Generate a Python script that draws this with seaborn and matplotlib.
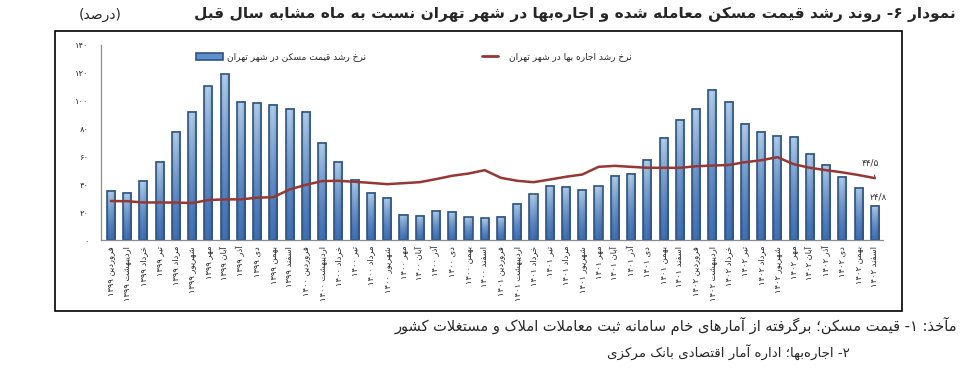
import re
import numpy as np
import pandas as pd
import matplotlib
matplotlib.use('Agg')
import matplotlib.pyplot as plt
import seaborn as sns
from matplotlib.lines import Line2D
from matplotlib.patches import Patch, Rectangle
from matplotlib.ticker import FixedLocator

# ---- data ----
MONTHS = ['فروردین', 'اردیبهشت', 'خرداد', 'تیر', 'مرداد', 'شهریور',
          'مهر', 'آبان', 'آذر', 'دی', 'بهمن', 'اسفند']
YEARS = ['۱۳۹۹', '۱۴۰۰', '۱۴۰۱', '۱۴۰۲']

price_growth = [35.2, 33.8, 42.4, 56.4, 77.4, 91.9, 110.2, 118.8, 99.0, 98.6, 97.1, 94.0,
                91.9, 69.5, 56.4, 43.4, 33.8, 30.2, 18.0, 17.6, 21.2, 20.2, 16.4, 15.7,
                16.6, 26.1, 32.8, 39.0, 38.0, 36.2, 38.6, 46.2, 47.4, 57.8, 73.1, 85.9,
                94.0, 107.4, 98.8, 83.6, 77.4, 74.5, 74.0, 62.1, 54.0, 45.2, 37.4, 24.8]
rent_growth = [28.1, 28.0, 27.1, 27.1, 27.0, 26.7, 28.8, 29.3, 29.3, 30.5, 30.9, 36.4,
               39.7, 42.4, 42.6, 41.9, 41.1, 40.2, 40.9, 41.6, 43.8, 46.2, 47.8, 50.2,
               44.7, 42.6, 41.6, 43.5, 45.5, 47.1, 52.6, 53.3, 52.6, 51.9, 51.9, 51.9,
               53.0, 53.5, 53.9, 55.9, 57.3, 59.5, 54.5, 51.9, 50.2, 48.6, 46.7, 44.5]

Y_TICKS = [0, 20, 40, 60, 80, 100, 120, 140]
Y_TICK_LABELS = ['۰', '۲۰', '۴۰', '۶۰', '۸۰', '۱۰۰', '۱۲۰', '۱۴۰']

TITLE = 'نمودار ۶- روند رشد قیمت مسکن معامله شده و اجاره\u200cبها در شهر تهران نسبت به ماه مشابه سال قبل'
UNIT = '(درصد)'
LEG_PRICE = 'نرخ رشد قیمت مسکن در شهر تهران'
LEG_RENT = 'نرخ رشد اجاره بها در شهر تهران'
NOTE_1 = 'مآخذ: ۱- قیمت مسکن؛ برگرفته از آمارهای خام سامانه ثبت معاملات املاک و مستغلات کشور'
NOTE_2 = '۲- اجاره\u200cبها؛ اداره آمار اقتصادی بانک مرکزی'
LAST_RENT_LABEL = '۴۴/۵'
LAST_PRICE_LABEL = '۲۴/۸'

# ---- minimal Persian shaping (presentation forms) + visual reordering ----
FORMS = {
    '\u0622': (0xFE81, 0xFE82), '\u0623': (0xFE83, 0xFE84), '\u0624': (0xFE85, 0xFE86),
    '\u0625': (0xFE87, 0xFE88), '\u0626': (0xFE89, 0xFE8A, 0xFE8B, 0xFE8C),
    '\u0627': (0xFE8D, 0xFE8E), '\u0628': (0xFE8F, 0xFE90, 0xFE91, 0xFE92),
    '\u0629': (0xFE93, 0xFE94), '\u062A': (0xFE95, 0xFE96, 0xFE97, 0xFE98),
    '\u062B': (0xFE99, 0xFE9A, 0xFE9B, 0xFE9C), '\u062C': (0xFE9D, 0xFE9E, 0xFE9F, 0xFEA0),
    '\u062D': (0xFEA1, 0xFEA2, 0xFEA3, 0xFEA4), '\u062E': (0xFEA5, 0xFEA6, 0xFEA7, 0xFEA8),
    '\u062F': (0xFEA9, 0xFEAA), '\u0630': (0xFEAB, 0xFEAC), '\u0631': (0xFEAD, 0xFEAE),
    '\u0632': (0xFEAF, 0xFEB0), '\u0633': (0xFEB1, 0xFEB2, 0xFEB3, 0xFEB4),
    '\u0634': (0xFEB5, 0xFEB6, 0xFEB7, 0xFEB8), '\u0635': (0xFEB9, 0xFEBA, 0xFEBB, 0xFEBC),
    '\u0636': (0xFEBD, 0xFEBE, 0xFEBF, 0xFEC0), '\u0637': (0xFEC1, 0xFEC2, 0xFEC3, 0xFEC4),
    '\u0638': (0xFEC5, 0xFEC6, 0xFEC7, 0xFEC8), '\u0639': (0xFEC9, 0xFECA, 0xFECB, 0xFECC),
    '\u063A': (0xFECD, 0xFECE, 0xFECF, 0xFED0), '\u0641': (0xFED1, 0xFED2, 0xFED3, 0xFED4),
    '\u0642': (0xFED5, 0xFED6, 0xFED7, 0xFED8), '\u0643': (0xFED9, 0xFEDA, 0xFEDB, 0xFEDC),
    '\u0644': (0xFEDD, 0xFEDE, 0xFEDF, 0xFEE0), '\u0645': (0xFEE1, 0xFEE2, 0xFEE3, 0xFEE4),
    '\u0646': (0xFEE5, 0xFEE6, 0xFEE7, 0xFEE8), '\u0647': (0xFEE9, 0xFEEA, 0xFEEB, 0xFEEC),
    '\u0648': (0xFEED, 0xFEEE), '\u0649': (0xFEEF, 0xFEF0),
    '\u064A': (0xFEF1, 0xFEF2, 0xFEF3, 0xFEF4),
    '\u067E': (0xFB56, 0xFB57, 0xFB58, 0xFB59), '\u0686': (0xFB7A, 0xFB7B, 0xFB7C, 0xFB7D),
    '\u0698': (0xFB8A, 0xFB8B), '\u06A9': (0xFB8E, 0xFB8F, 0xFB90, 0xFB91),
    '\u06AF': (0xFB92, 0xFB93, 0xFB94, 0xFB95), '\u06CC': (0xFBFC, 0xFBFD, 0xFBFE, 0xFBFF),
}
LAMALEF = {'\u0622': (0xFEF5, 0xFEF6), '\u0623': (0xFEF7, 0xFEF8),
           '\u0625': (0xFEF9, 0xFEFA), '\u0627': (0xFEFB, 0xFEFC)}


def shape(s):
    out = []
    i = 0
    while i < len(s):
        c = s[i]
        if c == '\u200c':
            i += 1
            continue
        if c not in FORMS:
            out.append(c)
            i += 1
            continue
        prev = s[i - 1] if i > 0 else ''
        jp = prev in FORMS and len(FORMS[prev]) == 4
        nxt = s[i + 1] if i + 1 < len(s) else ''
        if c == '\u0644' and nxt in LAMALEF:
            out.append(chr(LAMALEF[nxt][1] if jp else LAMALEF[nxt][0]))
            i += 2
            continue
        f = FORMS[c]
        jn = len(f) == 4 and nxt in FORMS
        g = f[3] if (jp and jn) else f[1] if jp else f[2] if jn else f[0]
        out.append(chr(g))
        i += 1
    return ''.join(out)


def fa(s):
    t = shape(s)[::-1]
    t = re.sub(r'[0-9\u06F0-\u06F9/]+', lambda m: m.group(0)[::-1], t)
    return t.translate(str.maketrans('()', ')('))


# ---- frame ----
labels = [f'{m} {y}' for y in YEARS for m in MONTHS]
df = pd.DataFrame({'label': labels, 'price': price_growth, 'rent': rent_growth,
                   'pos': np.arange(len(labels))})

sns.set_style('white')
plt.rcParams['font.family'] = ['DejaVu Sans']

fig = plt.figure(figsize=(9.67, 3.8), dpi=100)
ax = fig.add_axes([0.1045, 0.3676, 0.8087, 0.5147])

sns.barplot(data=df, x='label', y='price', color='#4f81bd', width=0.5,
            edgecolor='#30547f', linewidth=1.2, ax=ax, zorder=2)

# gradient fill for the bars
v = np.linspace(0, 1, 60)[:, None]
u = np.linspace(0, 1, 20)[None, :]
top = np.array([0.70, 0.82, 0.94])
bot = np.array([0.26, 0.45, 0.73])
shade = 1 - 0.15 * np.abs(u - 0.4) / 0.6
grad = (bot + (top - bot) * (v ** 1.4)[..., None]) * shade[..., None]
grad = np.clip(grad, 0, 1)
for p in list(ax.patches):
    x0, y0, w, h = p.get_x(), p.get_y(), p.get_width(), p.get_height()
    ax.imshow(grad, extent=[x0, x0 + w, y0, y0 + h], origin='lower',
              aspect='auto', zorder=1.9, interpolation='bilinear')
    p.set_facecolor('none')

sns.lineplot(data=df, x='pos', y='rent', color='#953735', linewidth=1.8,
             ax=ax, zorder=3)

ax.set_xlim(-0.6, 47.5)
ax.set_ylim(0, 140)
ax.set_aspect('auto')
ax.set_xlabel('')
ax.set_ylabel('')

ax.set_yticks(Y_TICKS)
ax.set_yticklabels(Y_TICK_LABELS, fontsize=6)
ax.set_xticks(df['pos'])
ax.set_xticklabels([fa(l) for l in labels], rotation=90, fontsize=6,
                   va='top', ha='center')
ax.xaxis.set_minor_locator(FixedLocator(np.arange(-0.5, 48, 1)))
ax.tick_params(axis='x', which='major', length=0, pad=4)
ax.tick_params(axis='x', which='minor', length=3, color='#888888', direction='out')
ax.tick_params(axis='y', length=3, color='#888888', direction='out', pad=6)
for side in ['top', 'right']:
    ax.spines[side].set_visible(False)
for side in ['left', 'bottom']:
    ax.spines[side].set_color('#8c8c8c')
    ax.spines[side].set_linewidth(0.9)

# legends
h_bar = Patch(facecolor='#5f8fcc', edgecolor='#30547f', linewidth=1.2)
h_line = Line2D([0], [0], color='#953735', linewidth=2)
leg1 = ax.legend([h_bar], [fa(LEG_PRICE)], loc='center left',
                 bbox_to_anchor=(0.122, 0.937), frameon=False, fontsize=6.5,
                 borderpad=0, borderaxespad=0, handlelength=2.9, handleheight=0.7,
                 handletextpad=0.5)
ax.add_artist(leg1)
ax.legend([h_line], [fa(LEG_RENT)], loc='center left',
          bbox_to_anchor=(0.487, 0.937), frameon=False, fontsize=6.5,
          borderpad=0, borderaxespad=0, handlelength=1.8, handletextpad=1.2)

# end-value labels
ax.annotate(LAST_RENT_LABEL, xy=(47, rent_growth[-1] + 1), xytext=(46.7, 55),
            fontsize=6.5, ha='center', va='center', color='#333333',
            arrowprops=dict(arrowstyle='-', color='#333333', lw=0.7,
                            shrinkA=3, shrinkB=0))
ax.text(47.2, 31, LAST_PRICE_LABEL, fontsize=6.5, ha='center', va='center',
        color='#333333')

# outer frame
fig.patches.append(Rectangle((0.0569, 0.1816), 0.8759, 0.7368, transform=fig.transFigure,
                             fill=False, edgecolor='black', linewidth=1.2))

# title, unit and notes
fig.text(0.988, 0.962, fa(TITLE), ha='right', va='center', fontsize=11.1,
         fontweight='bold')
fig.text(0.104, 0.962, fa(UNIT), ha='center', va='center', fontsize=10)
fig.text(0.99, 0.143, fa(NOTE_1), ha='right', va='center', fontsize=10.5)
fig.text(0.879, 0.074, fa(NOTE_2), ha='right', va='center', fontsize=9.6)

fig.savefig('out.png', dpi=100, facecolor='white')
